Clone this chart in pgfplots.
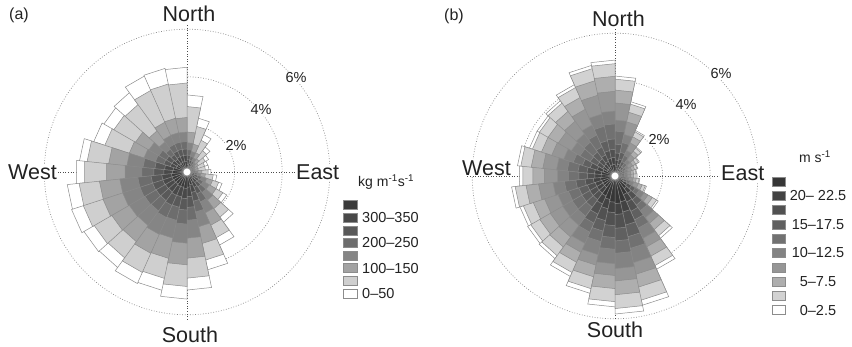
\documentclass[border=0pt]{standalone}
\usepackage{pgfplots}
\pgfplotsset{compat=1.18}
\usepackage{pgfplotstable}
\usepackage{fontspec}
\setmainfont{Liberation Sans}

\definecolor{aA}{HTML}{3A3A3A}
\definecolor{aB}{HTML}{494949}
\definecolor{aC}{HTML}{595959}
\definecolor{aD}{HTML}{6D6D6D}
\definecolor{aE}{HTML}{858585}
\definecolor{aF}{HTML}{A3A3A3}
\definecolor{aG}{HTML}{CFCFCF}
\definecolor{aH}{HTML}{FFFFFF}
\definecolor{bA}{HTML}{363636}
\definecolor{bB}{HTML}{434343}
\definecolor{bC}{HTML}{515151}
\definecolor{bD}{HTML}{606060}
\definecolor{bE}{HTML}{717171}
\definecolor{bF}{HTML}{838383}
\definecolor{bG}{HTML}{969696}
\definecolor{bH}{HTML}{AEAEAE}
\definecolor{bI}{HTML}{D2D2D2}
\definecolor{bJ}{HTML}{FFFFFF}
\definecolor{edge}{HTML}{8C8C8C}
\definecolor{txt}{HTML}{222222}

% cumulative outer radius (percent) of each class band, 30 sectors of 12 degrees
\pgfplotstableread{
s c1 c2 c3 c4 c5 c6 c7 c8
0 0.32 0.52 0.71 0.94 1.23 1.68 2.75 3.24
1 0.23 0.37 0.51 0.67 0.88 1.20 1.96 2.31
2 0.17 0.28 0.38 0.50 0.65 0.89 1.46 1.72
3 0.13 0.21 0.29 0.38 0.49 0.68 1.11 1.30
4 0.11 0.17 0.23 0.30 0.40 0.55 0.89 1.05
5 0.09 0.15 0.20 0.27 0.35 0.48 0.78 0.92
6 0.09 0.15 0.20 0.27 0.35 0.48 0.78 0.93
7 0.12 0.18 0.25 0.34 0.46 0.63 0.89 1.01
8 0.15 0.23 0.32 0.43 0.58 0.78 1.11 1.26
9 0.20 0.33 0.47 0.64 0.87 1.13 1.40 1.55
10 0.25 0.41 0.58 0.79 1.08 1.41 1.74 1.93
11 0.34 0.55 0.78 1.07 1.46 1.91 2.35 2.61
12 0.44 0.71 1.01 1.38 1.88 2.45 3.02 3.36
13 0.55 0.88 1.26 1.72 2.35 3.07 3.78 4.20
14 0.64 1.04 1.49 2.03 2.78 3.62 4.46 4.96
15 0.69 1.12 1.60 2.19 2.99 3.90 4.81 5.34
16 0.66 1.07 1.52 2.08 2.84 3.71 4.57 5.08
17 0.67 1.08 1.54 2.10 2.87 3.74 4.62 5.13
18 0.64 1.04 1.49 2.03 2.78 3.62 4.46 4.96
19 0.65 1.05 1.50 2.05 2.80 3.65 4.50 5.00
20 0.66 1.07 1.52 2.08 2.84 3.71 4.58 5.10
21 0.66 1.07 1.52 2.08 2.84 3.70 4.56 5.06
22 0.61 0.98 1.40 1.91 2.61 3.40 4.33 4.66
23 0.59 0.95 1.36 1.86 2.54 3.31 4.22 4.54
24 0.49 0.74 1.03 1.40 1.90 2.55 3.63 4.12
25 0.48 0.73 1.01 1.37 1.85 2.50 3.55 4.03
26 0.41 0.66 0.91 1.19 1.57 2.14 3.50 4.12
27 0.44 0.71 0.97 1.28 1.68 2.29 3.75 4.41
28 0.45 0.71 0.98 1.29 1.69 2.31 3.78 4.45
29 0.44 0.71 0.97 1.28 1.68 2.29 3.74 4.40
}\tabA

\pgfplotstableread{
s c1 c2 c3 c4 c5 c6 c7 c8 c9 c10
0 0.42 0.67 0.97 1.34 1.89 2.35 3.07 3.61 4.07 4.20
1 0.32 0.51 0.73 1.02 1.44 1.79 2.33 2.74 3.09 3.19
2 0.21 0.34 0.48 0.67 0.95 1.18 1.53 1.81 2.04 2.10
3 0.15 0.24 0.35 0.48 0.68 0.85 1.10 1.30 1.46 1.51
4 0.12 0.19 0.27 0.38 0.53 0.66 0.86 1.01 1.14 1.18
5 0.10 0.16 0.23 0.32 0.45 0.57 0.74 0.87 0.98 1.01
6 0.09 0.15 0.21 0.29 0.41 0.52 0.67 0.79 0.89 0.92
7 0.09 0.15 0.21 0.29 0.41 0.52 0.67 0.79 0.89 0.93
8 0.11 0.17 0.24 0.34 0.47 0.59 0.77 0.90 1.02 1.05
9 0.19 0.29 0.40 0.53 0.68 0.83 1.03 1.20 1.34 1.39
10 0.42 0.59 0.80 0.99 1.18 1.41 1.60 1.81 2.02 2.10
11 0.65 0.91 1.23 1.52 1.81 2.17 2.46 2.79 3.11 3.24
12 0.86 1.20 1.63 2.02 2.40 2.87 3.26 3.69 4.12 4.29
13 1.11 1.55 2.11 2.61 3.11 3.72 4.22 4.77 5.33 5.55
14 1.16 1.62 2.20 2.73 3.25 3.89 4.41 4.99 5.57 5.80
15 1.10 1.54 2.09 2.59 3.08 3.69 4.18 4.73 5.28 5.50
16 1.01 1.41 1.92 2.37 2.82 3.38 3.83 4.33 4.84 5.04
17 0.92 1.29 1.76 2.17 2.59 3.10 3.51 3.97 4.44 4.62
18 0.60 0.90 1.24 1.63 2.10 2.57 3.17 3.69 4.14 4.29
19 0.59 0.89 1.23 1.61 2.08 2.54 3.14 3.65 4.09 4.24
20 0.59 0.88 1.22 1.60 2.06 2.52 3.11 3.61 4.05 4.20
21 0.61 0.92 1.27 1.66 2.14 2.62 3.23 3.76 4.22 4.37
22 0.56 0.85 1.17 1.53 1.97 2.42 2.98 3.47 3.89 4.03
23 0.58 0.87 1.19 1.57 2.02 2.47 3.05 3.54 3.98 4.12
24 0.53 0.79 1.10 1.44 1.85 2.27 2.80 3.25 3.65 3.78
25 0.38 0.60 0.87 1.21 1.70 2.12 2.76 3.25 3.67 3.78
26 0.39 0.63 0.90 1.25 1.76 2.19 2.85 3.36 3.79 3.91
27 0.42 0.67 0.97 1.34 1.89 2.35 3.07 3.61 4.07 4.20
28 0.48 0.76 1.09 1.52 2.14 2.66 3.47 4.09 4.61 4.75
29 0.49 0.78 1.12 1.56 2.19 2.73 3.56 4.19 4.72 4.87
}\tabB

% build the wedge polygon of one band (compass angles, 12 degree sectors)
\newcommand\buildlayer[3]{%
  \gdef#3{}%
  \foreach \i in {0,...,29}{%
    \pgfplotstablegetelem{\i}{#2}\of#1%
    \let\rr\pgfplotsretval
    \pgfmathsetmacro\xa{\rr*sin(12*\i)}%
    \pgfmathsetmacro\ya{\rr*cos(12*\i)}%
    \pgfmathsetmacro\xb{\rr*sin(12*\i+12)}%
    \pgfmathsetmacro\yb{\rr*cos(12*\i+12)}%
    \xdef#3{#3 (0,0) (\xa,\ya) (\xb,\yb)}%
  }%
  \xdef#3{#3 (0,0)}%
}
\buildlayer{\tabA}{c1}\LAa
\buildlayer{\tabA}{c2}\LAb
\buildlayer{\tabA}{c3}\LAc
\buildlayer{\tabA}{c4}\LAd
\buildlayer{\tabA}{c5}\LAe
\buildlayer{\tabA}{c6}\LAf
\buildlayer{\tabA}{c7}\LAg
\buildlayer{\tabA}{c8}\LAh
\buildlayer{\tabB}{c1}\LBa
\buildlayer{\tabB}{c2}\LBb
\buildlayer{\tabB}{c3}\LBc
\buildlayer{\tabB}{c4}\LBd
\buildlayer{\tabB}{c5}\LBe
\buildlayer{\tabB}{c6}\LBf
\buildlayer{\tabB}{c7}\LBg
\buildlayer{\tabB}{c8}\LBh
\buildlayer{\tabB}{c9}\LBi
\buildlayer{\tabB}{c10}\LBj

\newcommand\band[2]{%
  \edef\doband{\noexpand\addplot[fill=#1, draw=edge, line width=0.5pt, forget plot] coordinates {#2};}%
  \doband}

\pgfplotsset{rose/.style={
  hide axis, clip=false, x=23.8pt, y=23.8pt,
  xmin=-6.3, xmax=6.3, ymin=-6.3, ymax=6.3,
  anchor=origin, unbounded coords=jump}}

\newcommand\grid{%
  \draw[edge, line width=0.7pt, dash pattern=on 0.8pt off 1.8pt] (axis cs:0,0) circle[radius=47.6pt];
  \draw[edge, line width=0.7pt, dash pattern=on 0.8pt off 1.8pt] (axis cs:0,0) circle[radius=95.2pt];
  \draw[edge, line width=0.7pt, dash pattern=on 0.8pt off 1.8pt] (axis cs:0,0) circle[radius=142.8pt];
  \addplot[draw=black!70, line width=0.8pt, dash pattern=on 0.8pt off 1.8pt, forget plot] coordinates {(0,-6.2) (0,6.2)};
  \addplot[draw=black!70, line width=0.8pt, dash pattern=on 0.8pt off 1.8pt, forget plot] coordinates {(-6.2,0) (6.2,0)};
}

\begin{document}
\begin{tikzpicture}[x=1pt,y=1pt]
\useasboundingbox (0,0) rectangle (852,346);

% ---------------- (a)
\begin{axis}[rose, at={(187pt,174pt)}]
\grid
\band{aH}{\LAh}
\band{aG}{\LAg}
\band{aF}{\LAf}
\band{aE}{\LAe}
\band{aD}{\LAd}
\band{aC}{\LAc}
\band{aB}{\LAb}
\band{aA}{\LAa}
\addplot[only marks, mark=*, mark size=4pt, mark options={fill=white, draw=edge, line width=0.6pt}] coordinates {(0,0)};
\end{axis}

% ---------------- (b)
\begin{axis}[rose, at={(615pt,170pt)}]
\grid
\band{bJ}{\LBj}
\band{bI}{\LBi}
\band{bH}{\LBh}
\band{bG}{\LBg}
\band{bF}{\LBf}
\band{bE}{\LBe}
\band{bD}{\LBd}
\band{bC}{\LBc}
\band{bB}{\LBb}
\band{bA}{\LBa}
\addplot[only marks, mark=*, mark size=4pt, mark options={fill=white, draw=edge, line width=0.6pt}] coordinates {(0,0)};
\end{axis}

% ---------------- labels
\begin{scope}[every node/.style={text=txt, inner sep=1pt, fill=white}]
\node[anchor=base west, fill=none, font=\fontsize{16}{18}\selectfont] at (8,326) {(a)};
\node[anchor=base west, fill=none, font=\fontsize{16}{18}\selectfont] at (443,325) {(b)};
\begin{scope}[every node/.append style={font=\fontsize{21.5}{24}\selectfont}]
\node[anchor=base] at (189,324) {North};
\node[anchor=base west] at (7,166) {West};
\node[anchor=base west] at (295,166) {East};
\node[anchor=base] at (190,4) {South};
\node[anchor=base] at (618.5,319) {North};
\node[anchor=base west] at (461,171) {West};
\node[anchor=base west] at (720,165) {East};
\node[anchor=base] at (615,9) {South};
\end{scope}
\begin{scope}[every node/.append style={font=\fontsize{14.5}{16}\selectfont}]
\node at (236,201) {2\%};
\node at (261,236) {4\%};
\node at (296,268) {6\%};
\node at (659,207) {2\%};
\node at (686,241) {4\%};
\node at (721,272) {6\%};
\end{scope}
\end{scope}

% legend (a)
\node[anchor=base west, text=txt, inner sep=0pt, font=\fontsize{14}{16}\selectfont] at (358,159) {kg m\textsuperscript{-1}s\textsuperscript{-1}};
\foreach \c [count=\k from 0] in {aA,aB,aC,aD,aE,aF,aG,aH}{
  \filldraw[fill=\c, draw=edge, line width=0.5pt] (343,{145.3-12.6*\k-9}) rectangle (357,{145.3-12.6*\k});
}
\foreach \t/\k in {300--350/1, 200--250/3, 100--150/5, 0--50/7}{
  \node[anchor=west, text=txt, inner sep=0pt, font=\fontsize{14.5}{16}\selectfont] at (362,{140.8-12.6*\k}) {\t};
}

% legend (b)
\node[anchor=base, text=txt, inner sep=0pt, font=\fontsize{14}{16}\selectfont] at (815,183) {m s\textsuperscript{-1}};
\foreach \c [count=\k from 0] in {bA,bB,bC,bD,bE,bF,bG,bH,bI,bJ}{
  \filldraw[fill=\c, draw=edge, line width=0.5pt] (772,{169-14.3*\k-9}) rectangle (785,{169-14.3*\k});
}
\foreach \t/\k in {20-- 22.5/1, 15--17.5/3, 10--12.5/5, 5--7.5/7, 0--2.5/9}{
  \node[text=txt, inner sep=0pt, font=\fontsize{14.5}{16}\selectfont] at (818,{164.5-14.3*\k}) {\t};
}
\end{tikzpicture}
\end{document}
